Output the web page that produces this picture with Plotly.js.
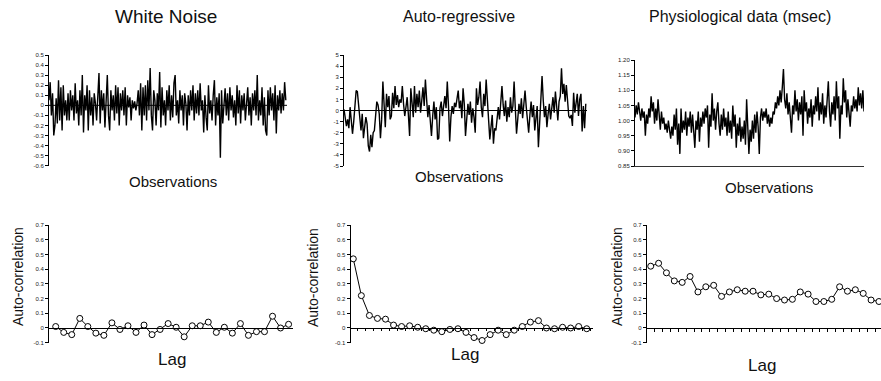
<!DOCTYPE html>
<html>
<head>
<meta charset="utf-8">
<script src="https://cdn.plot.ly/plotly-3.0.1.min.js"></script>
<style>html,body{margin:0;padding:0;background:#fff}#chart{width:881px;height:381px}</style>
</head>
<body>
<div id="chart"></div>
<script>
// ---------------- data ----------------
const panelTitles = ["White Noise", "Auto-regressive", "Physiological data (msec)"];
const xTitleTop = "Observations";
const xTitleBottom = "Lag";
const yTitleBottom = "Auto-correlation";

const whiteNoise = [
 0.05,0.23,-0.1,0.12,-0.3,-0.2,0.07,-0.18,0.25,-0.15,
 0.18,-0.25,0.2,-0.1,0.05,-0.15,0.12,-0.15,0.15,-0.05,
 0.1,-0.15,0.22,-0.08,0.05,-0.2,0.15,-0.1,0.3,-0.27,
 0.1,-0.05,0.2,-0.25,0.15,-0.1,0.08,-0.2,0.12,0.02,
 -0.15,0.1,0.32,-0.18,0.15,-0.05,0.12,-0.22,0.05,0.3,
 -0.1,-0.25,0.15,-0.05,0.1,-0.15,0.2,-0.08,0.18,-0.2,
 0.12,-0.05,0.15,-0.1,0.18,-0.2,0.1,-0.02,0.08,-0.15,
 0.05,-0.03,0.04,-0.05,0.02,0.15,-0.1,0.22,-0.25,0.18,
 -0.1,0.2,-0.15,0.25,-0.05,0.37,-0.1,-0.25,0.15,0.05,
 -0.2,0.12,-0.05,0.33,-0.22,0.18,-0.1,0.05,-0.2,0.15,
 -0.05,0.2,-0.15,0.1,-0.12,0.22,0.3,-0.1,0.05,-0.18,
 0.15,-0.05,0.1,-0.2,0.12,0.02,-0.25,0.1,-0.1,0.15,
 -0.05,0.2,-0.15,0.12,-0.08,0.15,-0.1,0.22,-0.05,0.05,
 -0.27,0.1,-0.12,-0.25,0.2,-0.08,0.05,-0.15,0.1,0.25,
 -0.2,0.08,-0.1,0.12,-0.52,0.15,-0.18,0.05,0.17,-0.1,
 0.12,-0.15,0.18,-0.05,0.1,-0.12,0.05,-0.2,0.2,-0.08,
 0.15,-0.18,0.1,-0.05,0.12,-0.15,0.05,0.18,-0.1,0.08,
 -0.2,0.12,-0.05,0.15,-0.1,0.3,-0.15,0.05,-0.1,0.18,
 -0.2,0.08,-0.25,-0.3,0.15,-0.1,0.18,-0.05,0.12,-0.15,
 0.2,-0.28,0.1,-0.05,0.15,-0.08,0.12,-0.05,0.23,0.05
];

const autoRegressive = [
 0.1,-0.5,-1.4,-0.8,-1.6,0.3,-1.2,-2.1,-1.0,0.2,
 1.8,1.7,0.5,-0.5,-1.8,-0.3,-2.5,-1.5,-0.6,-1.2,
 -3.2,-3.7,-2.2,-3.3,-2.0,-1.8,-0.5,0.8,0.5,-0.3,
 -2.5,-0.8,2.6,0.5,-1.5,1.5,0.3,1.3,-0.8,-0.5,
 1.6,0.2,2.2,0.5,1.4,0.3,1.0,0.7,2.2,0.6,
 -0.5,0.3,1.2,-0.4,-2.3,2.0,0.5,-0.6,2.2,-0.2,
 1.5,0.3,1.8,-0.2,0.9,2.1,0.4,2.8,1.0,-0.6,
 0.5,-1.2,-2.3,-0.5,0.8,-0.8,0.3,-2.6,-2.5,0.2,
 0.8,-0.5,0.7,1.3,0.2,2.6,0.4,-2.8,-0.6,0.4,
 -0.3,0.7,0.3,1.0,1.8,0.2,0.9,-0.7,2.0,0.6,
 -2.3,-0.8,0.6,-0.4,0.8,-1.1,0.2,-0.6,-2.0,2.0,
 0.5,1.2,2.6,0.3,-0.6,1.5,0.4,2.8,0.2,-0.8,
 -2.6,-1.2,-0.4,-3.0,-1.6,-1.8,-0.3,0.3,-0.8,0.6,
 2.2,0.5,-0.5,0.9,-1.0,0.3,-0.6,1.2,-0.2,0.4,
 2.6,0.2,-2.1,-0.8,0.6,-0.3,1.1,-0.7,0.4,1.8,
 0.3,-0.9,-2.0,-0.4,0.8,-0.6,0.5,-1.8,-0.5,0.4,
 -3.3,-1.2,0.6,3.1,0.9,-0.6,0.4,-1.5,-0.3,0.6,
 -0.8,0.5,1.2,-0.2,1.7,0.4,-0.9,0.8,1.3,3.8,
 1.5,2.4,0.8,2.3,0.5,-0.5,-0.7,-0.4,-1.4,1.6,
 -0.2,0.7,1.5,-0.5,1.0,1.5,-1.9,0.4,-1.6,0.6
];

const physiological = [
 1.01,1.05,1.02,1.06,1.03,1.00,1.04,1.01,1.03,0.95,
 1.02,0.99,1.04,1.01,1.08,1.03,1.06,0.99,1.04,1.00,
 1.07,1.02,0.97,1.03,0.99,1.01,0.97,0.99,0.96,1.00,
 0.97,0.94,0.98,0.95,1.02,0.97,1.04,0.92,0.99,0.89,
 1.04,0.96,1.00,0.97,1.03,0.95,1.01,0.98,1.03,0.96,
 1.02,0.97,0.91,1.00,0.97,1.03,0.93,1.01,0.98,1.03,
 0.99,1.04,1.01,1.05,0.91,1.02,0.98,1.09,1.00,1.04,
 0.97,1.03,1.06,0.99,0.95,1.02,0.97,1.04,0.98,1.01,
 0.95,1.03,0.96,1.00,0.94,1.05,0.98,1.02,0.91,0.99,
 0.95,1.01,0.93,0.98,0.94,1.00,0.92,1.07,0.95,0.89,
 0.97,0.93,1.00,0.94,1.02,0.96,1.03,0.98,0.89,1.01,
 1.04,1.00,1.03,1.01,1.04,0.99,1.02,0.98,1.01,0.99,
 1.03,1.02,1.06,1.04,1.08,1.05,1.10,1.06,1.11,1.17,
 1.07,1.04,1.09,1.02,1.06,1.01,0.96,1.05,1.02,1.10,
 1.03,1.07,1.00,1.06,1.02,1.08,0.95,1.10,1.03,1.06,
 0.99,1.04,1.01,1.07,0.98,1.05,1.02,1.08,1.03,1.11,
 1.00,1.06,1.02,1.09,0.99,1.05,1.01,1.07,1.13,1.03,
 0.98,1.06,1.02,1.08,1.00,1.13,1.04,1.08,0.94,1.05,
 1.02,1.14,1.06,1.10,1.01,1.07,1.03,0.98,1.05,1.03,
 1.08,1.04,1.07,1.03,1.11,1.05,1.09,1.04,1.10,1.03
];

const lags = [1,2,3,4,5,6,7,8,9,10,11,12,13,14,15,16,17,18,19,20,21,22,23,24,25,26,27,28,29,30];
const acfWhite = [0.01,-0.03,-0.045,0.065,0.01,-0.035,-0.05,0.035,-0.01,0.015,
 -0.03,0.02,-0.045,-0.01,0.03,0.005,-0.06,0.015,0.015,0.04,
 -0.03,0.005,-0.035,0.03,-0.05,-0.025,-0.025,0.08,0.0,0.025];
const acfAR = [0.47,0.22,0.085,0.065,0.06,0.02,0.01,0.015,0.005,-0.005,
 -0.015,-0.025,-0.01,-0.005,-0.03,-0.065,-0.085,-0.045,-0.015,-0.045,
 -0.015,0.01,0.04,0.05,0.0,-0.005,0.005,0.0,0.01,-0.005];
const acfPhysio = [0.42,0.44,0.375,0.32,0.31,0.35,0.245,0.28,0.29,0.215,
 0.245,0.26,0.25,0.25,0.225,0.23,0.2,0.19,0.195,0.245,
 0.23,0.18,0.18,0.195,0.28,0.25,0.26,0.235,0.19,0.18];

const ticksWN = [0.5,0.4,0.3,0.2,0.1,0,-0.1,-0.2,-0.3,-0.4,-0.5,-0.6];
const ticksWNText = ["0.5","0.4","0.3","0.2","0.1","0","-0.1","-0.2","-0.3","-0.4","-0.5","-0.6"];
const ticksAR = [5,4,3,2,1,0,-1,-2,-3,-4,-5];
const ticksARText = ["5","4","3","2","1","0","-1","-2","-3","-4","-5"];
const ticksPh = [1.20,1.15,1.10,1.05,1.00,0.95,0.90,0.85];
const ticksPhText = ["1.20","1.15","1.10","1.05","1.00","0.95","0.90","0.85"];
const ticksAC = [0.7,0.6,0.5,0.4,0.3,0.2,0.1,0,-0.1];
const ticksACText = ["0.7","0.6","0.5","0.4","0.3","0.2","0.1","0","-0.1"];

// ---------------- layout helpers ----------------
const W = 881, H = 381;
const fx = p => p / W;
const fy = p => 1 - p / H;
const FONT = "Liberation Sans, Arial, sans-serif";
const idx = arr => arr.map((_, i) => i);

const lineTrace = (y, xa, ya) => ({
  x: idx(y), y: y, xaxis: xa, yaxis: ya, type: "scatter", mode: "lines",
  line: {color: "#000", width: 1.4}, hoverinfo: "skip"
});
const acfTrace = (y, xa, ya) => ({
  x: lags, y: y, xaxis: xa, yaxis: ya, type: "scatter", mode: "lines+markers",
  line: {color: "#000", width: 1},
  marker: {symbol: "circle", size: 6, color: "#fff", line: {color: "#000", width: 1}},
  cliponaxis: false, hoverinfo: "skip"
});

const data = [
  lineTrace(whiteNoise, "x", "y"),
  lineTrace(autoRegressive, "x2", "y2"),
  lineTrace(physiological, "x3", "y3"),
  acfTrace(acfWhite, "x4", "y4"),
  acfTrace(acfAR, "x5", "y5"),
  acfTrace(acfPhysio, "x6", "y6")
];

const yBase = (dom, vals, txt, rng, anchor) => ({
  domain: dom, range: rng, anchor: anchor,
  showline: true, linecolor: "#000", linewidth: 1,
  ticks: "outside", ticklen: 3, tickwidth: 1, tickcolor: "#000",
  tickmode: "array", tickvals: vals, ticktext: txt,
  tickfont: {family: FONT, size: 6, color: "#222"},
  showgrid: false, zeroline: false, fixedrange: true
});
const xHidden = (dom, rng, anchor) => ({
  domain: dom, range: rng, anchor: anchor,
  showline: false, showticklabels: false, ticks: "",
  showgrid: false, zeroline: false, fixedrange: true
});

const topDomWN = [fy(165.7), fy(55)];
const topDomAR = [fy(166), fy(55)];
const topDomPh = [fy(166), fy(60)];
const botDom = [fy(342.7), fy(225)];

const layout = {
  width: W, height: H,
  margin: {l: 0, r: 0, t: 0, b: 0, pad: 0},
  paper_bgcolor: "#fff", plot_bgcolor: "rgba(0,0,0,0)",
  showlegend: false,
  font: {family: FONT, color: "#000"},
  xaxis:  xHidden([fx(49), fx(287)], [0, 200], "y"),
  yaxis:  yBase(topDomWN, ticksWN, ticksWNText, [-0.6, 0.5], "x"),
  xaxis2: xHidden([fx(344), fx(587)], [0, 200], "y2"),
  yaxis2: yBase(topDomAR, ticksAR, ticksARText, [-5, 5], "x2"),
  xaxis3: Object.assign(xHidden([fx(635), fx(864)], [0, 199], "y3"),
            {showline: true, linecolor: "#333", linewidth: 1.3}),
  yaxis3: yBase(topDomPh, ticksPh, ticksPhText, [0.85, 1.20], "x3"),
  xaxis4: Object.assign(xHidden([fx(49), fx(293)], [0.166, 30.55], "free"),
            {position: fy(328), showline: true, linecolor: "#000", linewidth: 1}),
  yaxis4: yBase(botDom, ticksAC, ticksACText, [-0.1, 0.7], "x4"),
  xaxis5: Object.assign(xHidden([fx(350.5), fx(593)], [0.652, 30.78], "free"),
            {position: fy(328), showline: true, linecolor: "#000", linewidth: 1,
             ticks: "outside", ticklen: 2, tickcolor: "#000", tick0: 0.5, dtick: 1}),
  yaxis5: yBase(botDom, ticksAC, ticksACText, [-0.1, 0.7], "x5"),
  xaxis6: Object.assign(xHidden([fx(646.7), 1], [0.49, 30.26], "free"),
            {position: fy(328), showline: true, linecolor: "#000", linewidth: 1,
             ticks: "outside", ticklen: 3, tickcolor: "#000", tick0: 0.5, dtick: 1}),
  yaxis6: yBase(botDom, ticksAC, ticksACText, [-0.1, 0.7], "x6"),
  shapes: [
    {type: "line", xref: "x", yref: "y", x0: 0, x1: 200, y0: 0, y1: 0, line: {color: "#000", width: 1}},
    {type: "line", xref: "x2", yref: "y2", x0: 0, x1: 200, y0: 0, y1: 0, line: {color: "#000", width: 1}}
  ],
  annotations: []
};

const ann = (text, px, py, size, angle) => ({
  text: text, xref: "paper", yref: "paper", x: fx(px), y: fy(py),
  xanchor: "center", yanchor: "middle", showarrow: false, textangle: angle || 0,
  font: {family: FONT, size: size, color: "#111"}
});
layout.annotations.push(
  ann(panelTitles[0], 166, 16, 19),
  ann(panelTitles[1], 459, 16, 16),
  ann(panelTitles[2], 740, 16, 16),
  ann(xTitleTop, 173, 181, 15),
  ann(xTitleTop, 459, 176, 15),
  ann(xTitleTop, 769, 187, 15),
  ann(yTitleBottom, 18, 277, 14, -90),
  ann(yTitleBottom, 313, 278, 14, -90),
  ann(yTitleBottom, 617, 277, 14, -90),
  ann(xTitleBottom, 172, 359, 17),
  ann(xTitleBottom, 465, 354, 17),
  ann(xTitleBottom, 762, 365, 17)
);

Plotly.newPlot("chart", data, layout, {staticPlot: true, displayModeBar: false});
</script>
</body>
</html>
